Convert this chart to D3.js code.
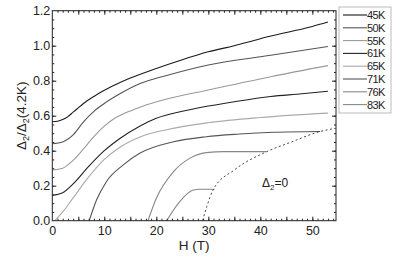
<!DOCTYPE html>
<html>
<head>
<meta charset="utf-8">
<script src="https://cdn.jsdelivr.net/npm/d3@7"></script>
<style>
  body { margin: 0; background: #fff; }
  text { font-family: "Liberation Sans", Arial, sans-serif; fill: #222; }
</style>
</head>
<body>
<script>
// series names and colours
const seriesNames = ["45K", "50K", "55K", "61K", "65K", "71K", "76K", "83K"];
const seriesColors = ["#1a1a1a", "#555", "#999", "#222", "#aaa", "#555", "#888", "#888"];

// H values (T) and gap ratio values for each temperature
const h45 = [0, 1, 2, 3, 4, 5, 6, 8, 10, 12, 15, 20, 25, 30, 35, 40, 45, 50, 53];
const v45 = [0.565, 0.568, 0.578, 0.595, 0.62, 0.645, 0.67, 0.71, 0.745, 0.775, 0.815, 0.87, 0.92, 0.965, 1.0, 1.04, 1.075, 1.11, 1.135];
const h50 = [0, 2, 4, 6, 8, 10, 13, 17, 22, 30, 42, 53];
const v50 = [0.44, 0.45, 0.49, 0.565, 0.625, 0.67, 0.725, 0.785, 0.83, 0.89, 0.945, 0.995];
const h55 = [0, 2, 4, 6, 8, 10, 12, 14, 17, 22, 30, 42, 53];
const v55 = [0.29, 0.30, 0.345, 0.41, 0.48, 0.54, 0.585, 0.615, 0.65, 0.695, 0.747, 0.823, 0.886];
const h61 = [0, 2, 4, 7, 10, 13, 16.8, 20, 25, 30, 35, 42, 48, 53];
const v61 = [0.145, 0.16, 0.21, 0.31, 0.40, 0.47, 0.54, 0.585, 0.625, 0.655, 0.68, 0.71, 0.725, 0.74];
const h65 = [0.5, 2, 4, 7, 10, 13, 17, 22, 30, 40, 53];
const v65 = [0, 0.05, 0.13, 0.25, 0.35, 0.42, 0.48, 0.52, 0.56, 0.59, 0.615];
const h71 = [7.1, 8.5, 10.4, 13.6, 16.8, 23.3, 29.6, 36, 42.4, 51.5];
const v71 = [0, 0.118, 0.223, 0.318, 0.385, 0.451, 0.48, 0.495, 0.505, 0.51];
const h76 = [18.4, 20, 23.3, 26.4, 29.6, 33, 41.2];
const v76 = [0, 0.128, 0.28, 0.356, 0.389, 0.395, 0.395];
const h83 = [22, 24.5, 27.1, 28.4, 31.2];
const v83 = [0, 0.109, 0.175, 0.18, 0.18];

// boundary where the gap closes
const hZero = [28.9, 29.7, 30.9, 35, 41.2, 46, 51.4, 54.5];
const vZero = [0, 0.08, 0.175, 0.29, 0.394, 0.45, 0.509, 0.528];

const xTickLabels = [0, 10, 20, 30, 40, 50];
const yTickLabels = [0.0, 0.2, 0.4, 0.6, 0.8, 1.0, 1.2];

const allH = [h45, h50, h55, h61, h65, h71, h76, h83];
const allV = [v45, v50, v55, v61, v65, v71, v76, v83];

const width = 395, height = 259;
const margin = {top: 10.7, right: 59, bottom: 38.3, left: 52.3};

const x = d3.scaleLinear().domain([0, 54.55]).range([margin.left, width - margin.right]);
const y = d3.scaleLinear().domain([0, 1.2]).range([height - margin.bottom, margin.top]);

const svg = d3.select("body").append("svg")
  .attr("width", width)
  .attr("height", height);

const line = d3.line()
  .x((d) => x(d[0]))
  .y((d) => y(d[1]))
  .curve(d3.curveMonotoneX);

// curves
const curves = svg.append("g").attr("fill", "none");
allH.forEach((hs, i) => {
  curves.append("path")
    .datum(hs.map((h, j) => [h, allV[i][j]]))
    .attr("d", line)
    .attr("stroke", seriesColors[i])
    .attr("stroke-width", 1.1);
});

curves.append("path")
  .datum(hZero.map((h, j) => [h, vZero[j]]))
  .attr("d", line)
  .attr("stroke", "#333")
  .attr("stroke-width", 0.9)
  .attr("stroke-dasharray", "2,2.5");

// axes with inward ticks, mirrored on top and right
const x0 = margin.left, x1 = width - margin.right;
const y0 = height - margin.bottom, y1 = margin.top;

const addAxis = (axis, tx, ty) => {
  const g = svg.append("g")
    .attr("transform", `translate(${tx},${ty})`)
    .call(axis);
  g.select(".domain").remove();
  g.selectAll("line").attr("stroke", "#222");
  return g;
};

const xMinor = d3.range(1, 55, 1);
const xMajor = d3.range(5, 55, 5);
const yMinor = d3.range(0.05, 1.2, 0.05);
const yMajor = d3.range(0.2, 1.2, 0.2);

addAxis(d3.axisBottom(x).tickValues(xMinor).tickSize(-2).tickFormat(""), 0, y0);
addAxis(d3.axisBottom(x).tickValues(xMajor).tickSize(-4).tickFormat(""), 0, y0);
addAxis(d3.axisTop(x).tickValues(xMinor).tickSize(-2).tickFormat(""), 0, y1);
addAxis(d3.axisTop(x).tickValues(xMajor).tickSize(-4).tickFormat(""), 0, y1);
addAxis(d3.axisLeft(y).tickValues(yMinor).tickSize(-2).tickFormat(""), x0, 0);
addAxis(d3.axisLeft(y).tickValues(yMajor).tickSize(-4).tickFormat(""), x0, 0);
addAxis(d3.axisRight(y).tickValues(yMinor).tickSize(-2).tickFormat(""), x1, 0);
addAxis(d3.axisRight(y).tickValues(yMajor).tickSize(-4).tickFormat(""), x1, 0);

// tick labels
const xl = addAxis(d3.axisBottom(x).tickValues(xTickLabels).tickSize(0).tickPadding(5).tickFormat(d3.format("d")), 0, y0);
xl.selectAll("text").attr("font-size", 12.5).attr("font-family", "Liberation Sans, Arial, sans-serif").attr("fill", "#222");
const yl = addAxis(d3.axisLeft(y).tickValues(yTickLabels).tickSize(0).tickPadding(2).tickFormat(d3.format(".1f")), x0, 0);
yl.selectAll("text").attr("font-size", 12.5).attr("font-family", "Liberation Sans, Arial, sans-serif").attr("fill", "#222");

// frame
svg.append("rect")
  .attr("x", x0).attr("y", y1)
  .attr("width", x1 - x0).attr("height", y0 - y1)
  .attr("fill", "none").attr("stroke", "#222").attr("stroke-width", 1);

// axis titles
svg.append("text")
  .attr("x", (x0 + x1) / 2).attr("y", 250)
  .attr("text-anchor", "middle").attr("font-size", 13.5)
  .text("H (T)");

const yt = svg.append("text")
  .attr("transform", `translate(26,${(y0 + y1) / 2}) rotate(-90)`)
  .attr("text-anchor", "middle").attr("font-size", 13.5);
yt.append("tspan").text("Δ");
yt.append("tspan").attr("font-size", 9).attr("dy", 3).text("2");
yt.append("tspan").attr("dy", -3).text("/Δ");
yt.append("tspan").attr("font-size", 9).attr("dy", 3).text("2");
yt.append("tspan").attr("dy", -3).text("(4.2K)");

// annotation
const an = svg.append("text").attr("x", 262).attr("y", 187).attr("font-size", 12);
an.append("tspan").text("Δ");
an.append("tspan").attr("font-size", 8).attr("dy", 3).text("2");
an.append("tspan").attr("dy", -3).text("=0");

// legend
const lg = svg.append("g");
lg.append("rect")
  .attr("x", 339).attr("y", 7).attr("width", 52).attr("height", 106)
  .attr("fill", "#fff").attr("stroke", "#bbb").attr("stroke-width", 1);
const legendY = d3.scalePoint().domain(seriesNames).range([15, 104.6]);
seriesNames.forEach((name, i) => {
  lg.append("line")
    .attr("x1", 343).attr("x2", 367)
    .attr("y1", legendY(name)).attr("y2", legendY(name))
    .attr("stroke", seriesColors[i]).attr("stroke-width", 1.1);
  lg.append("text")
    .attr("x", 367).attr("y", legendY(name) + 4)
    .attr("font-size", 11).attr("letter-spacing", -0.6)
    .text(name);
});
</script>
</body>
</html>
